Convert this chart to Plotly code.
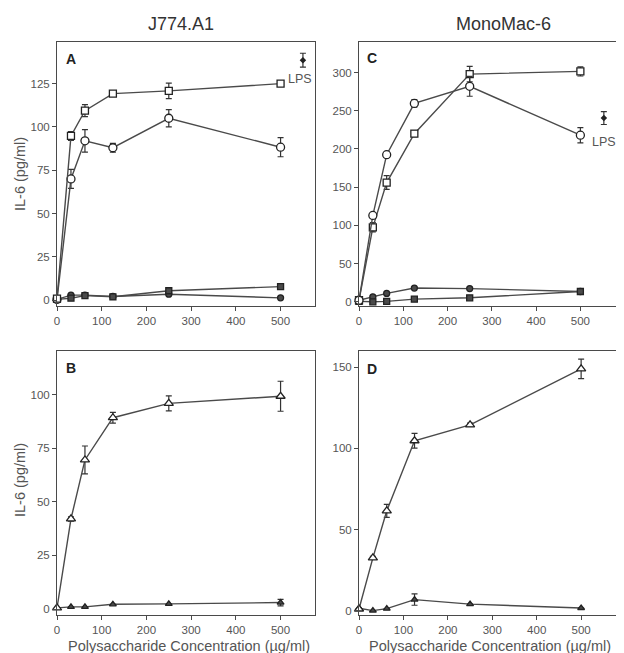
import plotly.graph_objects as go

# ---------------- data ----------------
conc = [0, 31.25, 62.5, 125, 250, 500]

# Panel A (J774.A1)
a_open_sq = [1.0, 94.8, 109.4, 119.2, 120.8, 125.0]
a_open_sq_err = [0, 2.5, 3.5, 1.2, 4.5, 1.0]
a_open_ci = [0.5, 70.0, 92.0, 88.0, 105.0, 88.3]
a_open_ci_err = [0, 5.5, 6.5, 2.5, 5.0, 5.5]
a_fill_sq = [0.5, 1.2, 2.7, 2.0, 5.5, 7.9]
a_fill_ci = [0.5, 3.0, 3.0, 2.2, 3.5, 1.4]
a_lps_x = [550]
a_lps_y = [138.5]
a_lps_err = [4]

# Panel C (MonoMac-6)
c_open_ci = [2.0, 113.0, 192.5, 259.6, 282.0, 218.0]
c_open_ci_err = [0, 3, 3, 5, 13, 10]
c_open_sq = [2.0, 97.5, 156.0, 220.0, 298.0, 301.5]
c_open_sq_err = [0, 6, 9, 4, 10, 6]
c_fill_ci = [2.0, 6.5, 11.0, 18.0, 17.3, 13.5]
c_fill_sq = [0.5, 0.0, 0.5, 3.5, 5.2, 13.5]
c_lps_x = [553]
c_lps_y = [240.5]
c_lps_err = [8.5]

# Panel B (J774.A1)
b_open_tri = [0.5, 42.0, 69.5, 89.2, 95.9, 99.2]
b_open_tri_err = [0, 1, 6.5, 2.5, 3.5, 7]
b_fill_tri = [0.5, 1.0, 1.0, 2.2, 2.4, 3.0]
b_fill_tri_err = [0, 0, 0, 0, 0, 1.5]

# Panel D (MonoMac-6)
d_open_tri = [1.0, 32.5, 61.5, 104.7, 114.5, 149.0]
d_open_tri_err = [0, 1, 4, 4.5, 1, 6]
d_fill_tri = [1.5, 0.0, 1.2, 6.8, 4.0, 1.6]
d_fill_tri_err = [0, 0, 0, 3.5, 0, 0]

col_titles = ["J774.A1", "MonoMac-6"]
panel_letters = ["A", "B", "C", "D"]
y_title = "IL-6 (pg/ml)"
x_title = "Polysaccharide Concentration (\u00b5g/ml)"
lps_label = "LPS"

# ---------------- styling ----------------
W, H = 624, 653
LINE = "#4a4a4a"
TXT = "#555555"
FONT = "Liberation Sans, Arial, sans-serif"

fig = go.Figure()


def series(x, y, err, symbol, filled, size, xa, ya):
    fig.add_trace(go.Scatter(
        x=x, y=y, mode="lines+markers", xaxis=xa, yaxis=ya,
        line=dict(color=LINE, width=1.4),
        marker=dict(symbol=symbol, size=size,
                    color=LINE if filled else "white",
                    line=dict(color="#222222", width=1.3)),
        error_y=dict(type="data", array=err, visible=err is not None,
                     color="#333333", thickness=1.2, width=3),
        showlegend=False, cliponaxis=False))


def lps(x, y, err, xa, ya):
    fig.add_trace(go.Scatter(
        x=x, y=y, mode="markers", xaxis=xa, yaxis=ya,
        marker=dict(symbol="diamond", size=5, color="#222222"),
        error_y=dict(type="data", array=err, color="#333333", thickness=1.2, width=3),
        showlegend=False, cliponaxis=False))


# A -> x/y ; C -> x2/y2 ; B -> x3/y3 ; D -> x4/y4
series(conc, a_fill_ci, None, "circle", True, 6, "x", "y")
series(conc, a_fill_sq, None, "square", True, 6, "x", "y")
series(conc, a_open_ci, a_open_ci_err, "circle", False, 8, "x", "y")
series(conc, a_open_sq, a_open_sq_err, "square", False, 7, "x", "y")
lps(a_lps_x, a_lps_y, a_lps_err, "x", "y")

series(conc, c_fill_ci, None, "circle", True, 6, "x2", "y2")
series(conc, c_fill_sq, None, "square", True, 6, "x2", "y2")
series(conc, c_open_sq, c_open_sq_err, "square", False, 7, "x2", "y2")
series(conc, c_open_ci, c_open_ci_err, "circle", False, 8, "x2", "y2")
lps(c_lps_x, c_lps_y, c_lps_err, "x2", "y2")

series(conc, b_fill_tri, b_fill_tri_err, "triangle-up", True, 6, "x3", "y3")
series(conc, b_open_tri, b_open_tri_err, "triangle-up", False, 8, "x3", "y3")

series(conc, d_fill_tri, d_fill_tri_err, "triangle-up", True, 6, "x4", "y4")
series(conc, d_open_tri, d_open_tri_err, "triangle-up", False, 8, "x4", "y4")


def px_dom(a, b, total):
    return [a / total, b / total]


def py_dom(top, bottom):
    return [1 - bottom / H, 1 - top / H]


axis_common = dict(showline=True, mirror=True, linecolor=LINE, linewidth=1,
                   ticks="outside", ticklen=4, tickcolor=LINE, showgrid=False,
                   zeroline=False, automargin=False,
                   tickfont=dict(family=FONT, size=11.5, color=TXT))

left_dom = px_dom(49, 307, W)
right_dom = px_dom(351, 614, W)
top_dom = py_dom(34, 298)
bot_dom = py_dom(343, 607)

fig.update_layout(
    template="none",
    width=W, height=H, autosize=False,
    margin=dict(l=0, r=0, t=0, b=0, pad=0),
    paper_bgcolor="white", plot_bgcolor="white",
    xaxis=dict(domain=left_dom, anchor="y", range=[0, 577], tickvals=[0, 100, 200, 300, 400, 500], **axis_common),
    yaxis=dict(domain=top_dom, anchor="x", range=[-3.3, 149], tickvals=[0, 25, 50, 75, 100, 125], **axis_common),
    xaxis2=dict(domain=right_dom, anchor="y2", range=[0, 594], tickvals=[0, 100, 200, 300, 400, 500], **axis_common),
    yaxis2=dict(domain=top_dom, anchor="x2", range=[-5.5, 340], tickvals=[0, 50, 100, 150, 200, 250, 300], **axis_common),
    xaxis3=dict(domain=left_dom, anchor="y3", range=[0, 577], tickvals=[0, 100, 200, 300, 400, 500], **axis_common),
    yaxis3=dict(domain=bot_dom, anchor="x3", range=[-2.8, 120.3], tickvals=[0, 25, 50, 75, 100], **axis_common),
    xaxis4=dict(domain=right_dom, anchor="y4", range=[0, 592], tickvals=[0, 100, 200, 300, 400, 500], **axis_common),
    yaxis4=dict(domain=bot_dom, anchor="x4", range=[-2.7, 160], tickvals=[0, 50, 100, 150], **axis_common),
)

ann = []


def text(t, px, py, size, color, angle=0, xanchor="center"):
    ann.append(dict(text=t, x=px / W, y=1 - py / H, xref="paper", yref="paper",
                    xanchor=xanchor, yanchor="middle", textangle=angle, showarrow=False,
                    font=dict(family=FONT, size=size, color=color)))


# column titles
text(col_titles[0], 173, 16, 18, "#333333")
text(col_titles[1], 495, 16, 18, "#333333")
# panel letters
for letter, (lx, ly) in zip(panel_letters, [(56, 51), (56, 360), (357, 50), (357, 361)]):
    text("<b>%s</b>" % letter, lx, ly, 14, "#222222", xanchor="left")
# y titles
for cy in [166, 472]:
    text(y_title, 12, cy, 14.5, TXT, angle=-90)
# x titles
for cx in [181, 482]:
    text(x_title, cx, 638, 14.5, TXT)
# LPS labels
text(lps_label, 292, 71, 12.5, TXT)
text(lps_label, 596, 134, 12.5, TXT)

fig.update_layout(annotations=ann)
fig.write_html("out.html")
